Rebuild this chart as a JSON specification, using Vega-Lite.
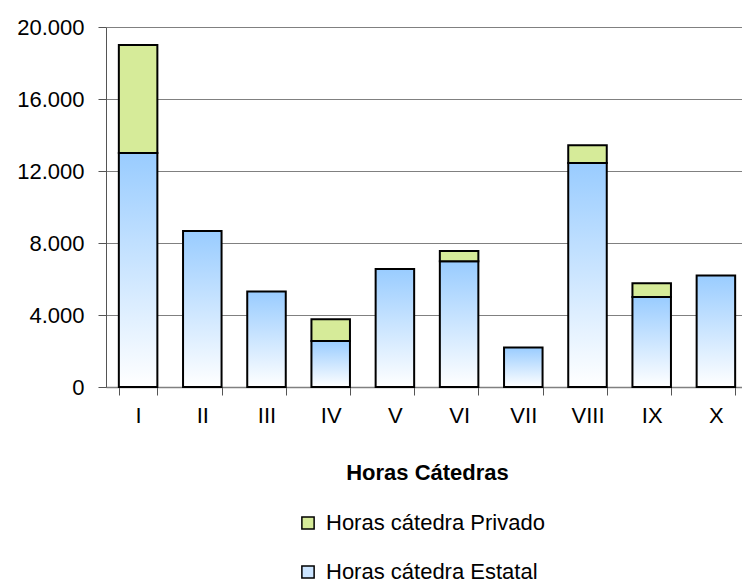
{
  "$schema": "https://vega.github.io/schema/vega-lite/v6.json",
  "width": 636,
  "height": 360,
  "autosize": {"type": "none"},
  "padding": {"left": 106, "top": 27, "right": 0, "bottom": 196},
  "background": "white",
  "config": {"view": {"stroke": null}, "font": "Liberation Sans"},
  "data": {"values": [
    {"region": "I", "tipo": "Horas cátedra Estatal", "horas": 13000},
    {"region": "I", "tipo": "Horas cátedra Privado", "horas": 6000},
    {"region": "II", "tipo": "Horas cátedra Estatal", "horas": 8660},
    {"region": "III", "tipo": "Horas cátedra Estatal", "horas": 5310},
    {"region": "IV", "tipo": "Horas cátedra Estatal", "horas": 2560},
    {"region": "IV", "tipo": "Horas cátedra Privado", "horas": 1200},
    {"region": "V", "tipo": "Horas cátedra Estatal", "horas": 6550},
    {"region": "VI", "tipo": "Horas cátedra Estatal", "horas": 6980},
    {"region": "VI", "tipo": "Horas cátedra Privado", "horas": 580},
    {"region": "VII", "tipo": "Horas cátedra Estatal", "horas": 2200},
    {"region": "VIII", "tipo": "Horas cátedra Estatal", "horas": 12450},
    {"region": "VIII", "tipo": "Horas cátedra Privado", "horas": 980},
    {"region": "IX", "tipo": "Horas cátedra Estatal", "horas": 5000},
    {"region": "IX", "tipo": "Horas cátedra Privado", "horas": 760},
    {"region": "X", "tipo": "Horas cátedra Estatal", "horas": 6200}
  ]},
  "mark": {"type": "bar", "stroke": "black", "strokeWidth": 2},
  "encoding": {
    "x": {
      "field": "region", "type": "nominal",
      "sort": ["I", "II", "III", "IV", "V", "VI", "VII", "VIII", "IX", "X"],
      "scale": {"paddingInner": 0.4, "paddingOuter": 0.2, "range": [0, 642]},
      "axis": {
        "title": "Horas Cátedras", "titleFontSize": 22, "titleFontWeight": "bold", "titleColor": "black",
        "titlePadding": 36, "labelAngle": 0, "labelFontSize": 22, "labelColor": "black", "labelPadding": 10,
        "tickSize": 8, "tickBand": "extent", "tickColor": "#555555", "domainColor": "#808080", "domainWidth": 1.5
      }
    },
    "y": {
      "field": "horas", "type": "quantitative", "stack": "zero",
      "scale": {"domain": [0, 20000]},
      "axis": {
        "title": null, "values": [0, 4000, 8000, 12000, 16000, 20000],
        "labelExpr": "replace(format(datum.value, ','), ',', '.')",
        "labelFontSize": 22, "labelColor": "black", "labelPadding": 14,
        "tickSize": 8, "tickColor": "#555555", "domainColor": "#555555",
        "grid": true, "gridColor": "#808080", "gridWidth": 1.2
      }
    },
    "order": {"field": "tipo", "sort": "ascending"},
    "fill": {
      "field": "tipo", "type": "nominal",
      "sort": ["Horas cátedra Privado", "Horas cátedra Estatal"],
      "scale": {"domain": ["Horas cátedra Privado", "Horas cátedra Estatal"], "range": ["#D6EB99", "#CCE5FF"]},
      "legend": {
        "title": null, "orient": "none", "legendX": 191, "legendY": 485, "direction": "vertical",
        "labelFontSize": 22, "labelColor": "black", "labelLimit": 0, "rowPadding": 27, "labelOffset": 7,
        "symbolType": "square", "symbolSize": 150, "symbolStrokeColor": "black", "symbolStrokeWidth": 1.5
      },
      "condition": {
        "test": "datum.tipo === 'Horas cátedra Estatal'",
        "value": {"gradient": "linear", "x1": 0, "y1": 0, "x2": 0, "y2": 1,
          "stops": [{"offset": 0, "color": "#99CCFF"}, {"offset": 1, "color": "#FFFFFF"}]}
      }
    }
  }
}
